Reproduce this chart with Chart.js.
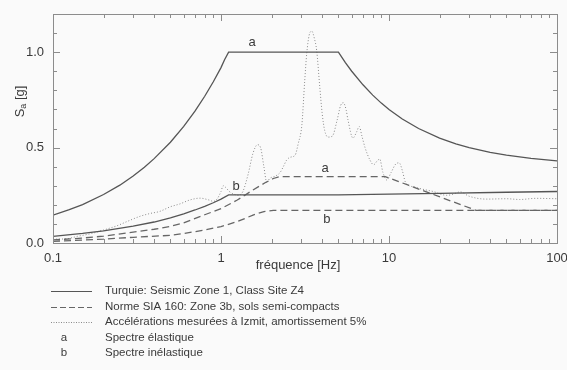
<!DOCTYPE html>
<html><head><meta charset="utf-8">
<script src="https://cdn.jsdelivr.net/npm/chart.js@4.4.1/dist/chart.umd.min.js"></script>
<style>
html,body{margin:0;padding:0;background:#fafafa;}
#wrap{position:relative;width:567px;height:370px;overflow:hidden;}
canvas{position:absolute;left:0;top:0;}
</style></head><body>
<div id="wrap"><canvas id="c" width="567" height="370"></canvas></div>
<script>
// ---- data ----
const turA_f  = [0.1,0.125,0.15,0.2,0.25,0.3,0.35,0.4,0.5,0.6,0.7,0.8,0.9,1.0,1.05,1.11,5.0,5.5,6,7,8,9,10,12,15,20,25,30,40,50,70,100];
const turA_sa = [0.146,0.175,0.201,0.254,0.303,0.351,0.397,0.442,0.528,0.611,0.691,0.769,0.845,0.919,0.96,1.0,1.0,0.945,0.90,0.829,0.775,0.733,0.70,0.65,0.60,0.55,0.52,0.50,0.475,0.46,0.443,0.43];

const turB_f  = [0.1,0.15,0.2,0.3,0.4,0.5,0.6,0.7,0.8,0.9,1.0,1.11,5,10,20,50,100];
const turB_sa = [0.035,0.05,0.064,0.088,0.11,0.132,0.153,0.173,0.192,0.211,0.23,0.252,0.252,0.256,0.26,0.266,0.27];

const siaA_f  = [0.1,0.15,0.2,0.3,0.4,0.5,0.6,0.8,1.0,1.25,1.55,1.85,2.05,2.25,9.5,33,100];
const siaA_sa = [0.016,0.026,0.036,0.057,0.072,0.087,0.105,0.148,0.18,0.225,0.278,0.318,0.338,0.348,0.348,0.171,0.171];

const siaB_f  = [0.1,0.2,0.3,0.5,0.6,0.8,1.0,1.25,1.55,1.8,2.05,100];
const siaB_sa = [0.009,0.02,0.03,0.04,0.05,0.068,0.086,0.112,0.146,0.165,0.171,0.171];

const meas_f  = [0.1,0.12,0.14,0.17,0.2,0.24,0.28,0.33,0.38,0.43,0.5,0.57,0.65,0.75,0.85,0.9,0.95,1.0,1.03,1.07,1.12,1.2,1.27,1.35,1.45,1.55,1.65,1.72,1.8,1.87,1.96,2.1,2.25,2.35,2.46,2.6,2.76,2.88,3.03,3.15,3.24,3.35,3.47,3.6,3.71,3.87,4.0,4.14,4.34,4.6,4.9,5.15,5.35,5.55,5.7,6.1,6.4,6.65,6.9,7.2,7.7,8.1,8.5,8.8,9.2,9.7,10.3,11.0,11.5,12.0,12.5,13.2,14,15.3,18.3,22,24,26.5,30,38,50,60,75,100];
const meas_sa = [0.02,0.022,0.035,0.05,0.068,0.09,0.115,0.14,0.155,0.165,0.19,0.205,0.225,0.235,0.225,0.218,0.232,0.27,0.30,0.29,0.27,0.255,0.25,0.27,0.36,0.47,0.515,0.50,0.40,0.32,0.34,0.35,0.37,0.40,0.435,0.45,0.46,0.52,0.62,0.85,0.995,1.09,1.11,1.07,1.01,0.82,0.68,0.59,0.555,0.56,0.64,0.72,0.735,0.70,0.645,0.55,0.58,0.61,0.56,0.50,0.435,0.41,0.43,0.44,0.37,0.33,0.37,0.415,0.42,0.38,0.32,0.30,0.295,0.285,0.27,0.25,0.255,0.268,0.245,0.23,0.232,0.228,0.234,0.232];

const xMajorTicks = [0.1,1,10,100];
const xTickLabels = ['0.1','1','10','100'];
const xMinorTicks = [0.2,0.3,0.4,0.5,0.6,0.7,0.8,0.9,2,3,4,5,6,7,8,9,20,30,40,50,60,70,80,90];
const yMajorTicks = [0,0.5,1.0];
const yMinorTicks = [0.1,0.2,0.3,0.4,0.6,0.7,0.8,0.9,1.1];

const curveLabels = ['a','b','a','b'];
const curveLabelF  = [1.53,1.23,4.16,4.27];
const curveLabelSa = [1.05,0.295,0.392,0.124];

const legendTexts = ['Turquie: Seismic Zone 1, Class Site Z4','Norme SIA 160: Zone 3b, sols semi-compacts','Accélérations mesurées à Izmit, amortissement 5%','Spectre élastique','Spectre inélastique'];
const legendKeys = ['solid','dashed','dotted','a','b'];

const xTitle = 'fréquence [Hz]';

// ---- styling ----
const FONT = '"Liberation Sans", Arial, sans-serif';
const TXT = '#3a3a3a';
const SOLID = '#555', DASH = '#666', DOT = '#8a8a8a';

function pts(f, s){ return f.map((v,i)=>({x:v, y:s[i]})); }
const solidStyle  = {borderColor:SOLID, borderWidth:1.3, pointRadius:0, tension:0, fill:false};
const dashedStyle = {borderColor:DASH, borderWidth:1.3, borderDash:[7,4], pointRadius:0, tension:0, fill:false};
const dottedStyle = {borderColor:DOT, borderWidth:1, borderDash:[1,2], pointRadius:0, tension:0.3, fill:false, cubicInterpolationMode:'monotone'};

const decor = {
  id:'decor',
  afterDraw(chart){
    const {ctx, chartArea:a, scales:{x, y}} = chart;
    ctx.save();
    // frame
    ctx.strokeStyle = '#8c8c8c'; ctx.lineWidth = 1; ctx.setLineDash([]);
    ctx.strokeRect(Math.round(a.left)+0.5, Math.round(a.top)+0.5, Math.round(a.right-a.left), Math.round(a.bottom-a.top));
    const line = (x1,y1,x2,y2)=>{ctx.beginPath();ctx.moveTo(x1,y1);ctx.lineTo(x2,y2);ctx.stroke();};
    const xt = (v,len)=>{const p=Math.round(x.getPixelForValue(v))+0.5; line(p,a.bottom,p,a.bottom-len); line(p,a.top,p,a.top+len);};
    const yt = (v,len)=>{const p=Math.round(y.getPixelForValue(v))+0.5; line(a.left,p,a.left+len,p); line(a.right,p,a.right-len,p);};
    xMajorTicks.forEach(v=>xt(v,7)); xMinorTicks.forEach(v=>xt(v,4));
    yMajorTicks.forEach(v=>yt(v,7)); yMinorTicks.forEach(v=>yt(v,4));
    // curve labels
    ctx.fillStyle = TXT; ctx.font = '13px '+FONT; ctx.textAlign='center'; ctx.textBaseline='middle';
    curveLabels.forEach((t,i)=>ctx.fillText(t, x.getPixelForValue(curveLabelF[i]), y.getPixelForValue(curveLabelSa[i])));
    // x title
    ctx.fillText(xTitle, 298, 265);
    // y title with subscript
    ctx.save();
    ctx.translate(20, 101.5); ctx.rotate(-Math.PI/2);
    ctx.textAlign='left';
    ctx.font = '13px '+FONT; const wS = ctx.measureText('S').width;
    ctx.font = '9px '+FONT; const wa = ctx.measureText('a').width;
    ctx.font = '13px '+FONT; const wg = ctx.measureText(' [g]').width;
    let x0 = -(wS+wa+wg)/2;
    ctx.fillText('S', x0, 0); x0 += wS;
    ctx.font = '9px '+FONT; ctx.fillText('a', x0, 4); x0 += wa;
    ctx.font = '13px '+FONT; ctx.fillText(' [g]', x0, 0);
    ctx.restore();
    // legend
    const ly0 = 291, dy = 15.5;
    ctx.font = '11.5px '+FONT; ctx.textAlign='left'; ctx.textBaseline='middle';
    legendTexts.forEach((t,i)=>{
      const yy = ly0 + i*dy;
      const k = legendKeys[i];
      if(k==='solid'||k==='dashed'||k==='dotted'){
        ctx.lineWidth = k==='dotted'?1:1.2;
        ctx.strokeStyle = k==='solid'?SOLID:(k==='dashed'?DASH:DOT);
        ctx.setLineDash(k==='solid'?[]:(k==='dashed'?[6,3]:[1,1.5]));
        line(51, Math.round(yy)+0.5, 92, Math.round(yy)+0.5);
        ctx.setLineDash([]);
      } else {
        ctx.textAlign='center'; ctx.fillText(k, 64, yy); ctx.textAlign='left';
      }
      ctx.fillText(t, 105, yy);
    });
    ctx.restore();
  }
};

new Chart(document.getElementById('c'), {
  type:'line',
  data:{datasets:[
    Object.assign({label:'Turquie a', data:pts(turA_f, turA_sa)}, solidStyle),
    Object.assign({label:'Turquie b', data:pts(turB_f, turB_sa)}, solidStyle),
    Object.assign({label:'SIA a', data:pts(siaA_f, siaA_sa)}, dashedStyle),
    Object.assign({label:'SIA b', data:pts(siaB_f, siaB_sa)}, dashedStyle),
    Object.assign({label:'Izmit', data:pts(meas_f, meas_sa)}, dottedStyle)
  ]},
  options:{
    responsive:false, animation:false, events:[],
    layout:{padding:{left:0,right:10,top:14,bottom:0}},
    plugins:{legend:{display:false}, tooltip:{enabled:false}},
    scales:{
      x:{type:'logarithmic', min:0.1, max:100,
        afterBuildTicks(s){ s.ticks = xMajorTicks.map(v=>({value:v})); },
        afterFit(s){ s.height = 127; s.paddingRight = 0; s.paddingLeft = 0; },
        ticks:{autoSkip:false, maxRotation:0, minRotation:0, padding:8, color:TXT, font:{family:FONT, size:13},
          callback(v){ const i = xMajorTicks.indexOf(v); return i>=0 ? xTickLabels[i] : ''; }},
        grid:{display:false, drawTicks:false}, border:{display:false}},
      y:{type:'linear', min:0, max:1.2,
        afterBuildTicks(s){ s.ticks = yMajorTicks.map(v=>({value:v})); },
        afterFit(s){ s.width = 53; s.paddingTop = 0; s.paddingBottom = 0; },
        ticks:{padding:9, color:TXT, font:{family:FONT, size:13}, callback(v){ return Number(v).toFixed(1); }},
        grid:{display:false, drawTicks:false}, border:{display:false}}
    }
  },
  plugins:[decor]
});
</script>
</body></html>
